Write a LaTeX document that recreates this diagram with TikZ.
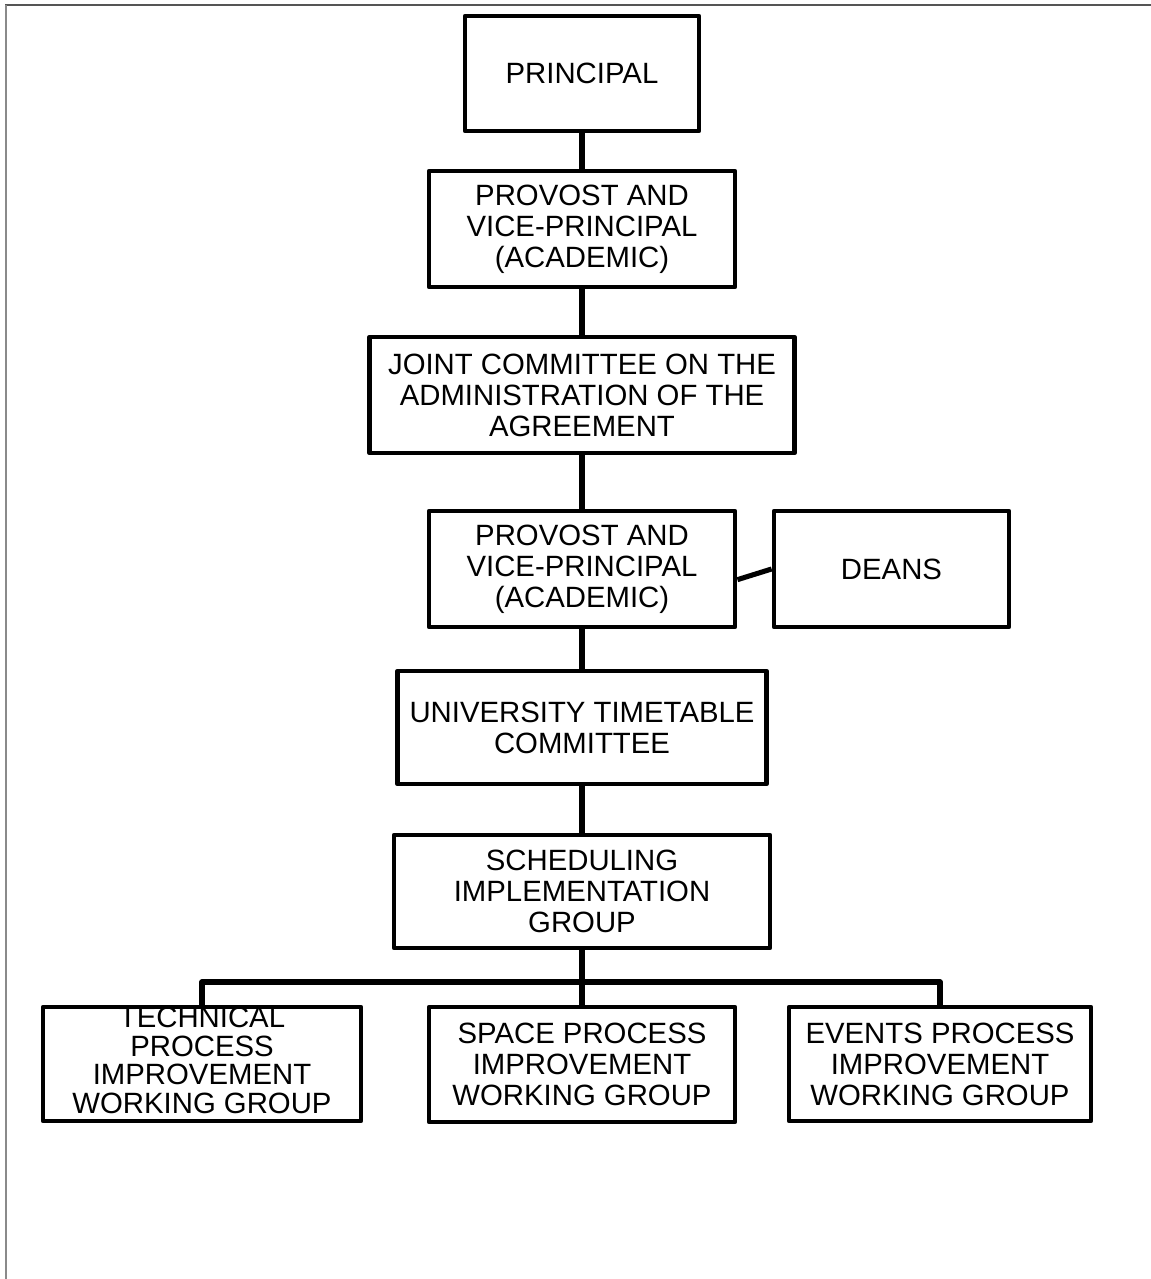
\documentclass[tikz,border=0pt]{standalone}
\usepackage{fontspec}
\setmainfont{Liberation Sans}
\definecolor{topgray}{HTML}{555555}
\definecolor{leftgray}{HTML}{8A8A8A}
\begin{document}
\begin{tikzpicture}[x=0.75pt,y=-0.75pt,
  box/.style={draw=black, line width=3.6pt, line join=round, rectangle, inner sep=0pt, fill=white},
  lbl/.style={align=center, inner sep=0pt, font=\fontsize{22}{23.25}\selectfont},
  tightlbl/.style={lbl, font=\fontsize{22}{21.4}\selectfont, yshift=2.6pt},
  conn/.style={draw=black, line width=3.8pt, line join=round}]
\useasboundingbox (0,0) rectangle (1151,1279);
\fill[white] (0,0) rectangle (1151,1279);
% frame
\draw[topgray, line width=0.9pt] (5,5) -- (1151,5);
\draw[leftgray, line width=1.5pt] (6,5) -- (6,1279);

% boxes
\node[box, minimum width=175.5pt, minimum height=86.25pt, label={[lbl]center:PRINCIPAL}] (prin) at (582,73.5) {};
\node[box, minimum width=229.5pt, minimum height=87pt, label={[lbl]center:{PROVOST AND\\VICE-PRINCIPAL\\(ACADEMIC)}}] (prov1) at (582,229) {};
\node[box, minimum width=318.75pt, minimum height=87pt, label={[lbl]center:{JOINT COMMITTEE ON THE\\ADMINISTRATION OF THE\\AGREEMENT}}] (joint) at (582,395) {};
\node[box, minimum width=229.5pt, minimum height=87pt, label={[lbl]center:{PROVOST AND\\VICE-PRINCIPAL\\(ACADEMIC)}}] (prov2) at (582,569) {};
\node[box, minimum width=176.25pt, minimum height=87pt, label={[lbl]center:DEANS}] (deans) at (891.5,569) {};
\node[box, minimum width=276.75pt, minimum height=84.75pt, label={[lbl]center:{UNIVERSITY TIMETABLE\\COMMITTEE}}] (utc) at (582,727.5) {};
\node[box, minimum width=282pt, minimum height=84.75pt, label={[lbl]center:{SCHEDULING\\IMPLEMENTATION\\GROUP}}] (sig) at (582,891.5) {};
\node[box, minimum width=238.5pt, minimum height=85.5pt, label={[tightlbl]center:{TECHNICAL\\PROCESS\\IMPROVEMENT\\WORKING GROUP}}] (tech) at (202,1064) {};
\node[box, minimum width=229.5pt, minimum height=86.25pt, label={[lbl]center:{SPACE PROCESS\\IMPROVEMENT\\WORKING GROUP}}] (space) at (582,1064.5) {};
\node[box, minimum width=226.5pt, minimum height=85.5pt, label={[lbl]center:{EVENTS PROCESS\\IMPROVEMENT\\WORKING GROUP}}] (events) at (940,1064) {};

% connectors
\draw[conn] (prin.south) -- (prov1.north);
\draw[conn] (prov1.south) -- (joint.north);
\draw[conn] (joint.south) -- (prov2.north);
\draw[conn] (prov2.south) -- (utc.north);
\draw[conn] (utc.south) -- (sig.north);
\draw[conn] ([yshift=-8pt]prov2.east) -- (deans.west);
\coordinate (bus) at (582,982);
\draw[conn] (sig.south) -- (space.north);
\draw[conn] (tech.north) |- (bus) -| (events.north);
\end{tikzpicture}
\end{document}
